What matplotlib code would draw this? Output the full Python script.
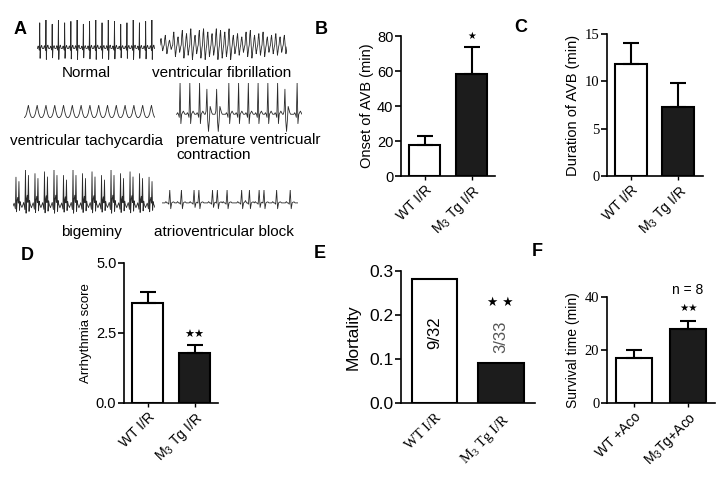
import matplotlib
matplotlib.use('Agg')
import matplotlib.pyplot as plt
import numpy as np

# ---------------- data ----------------
# Panel A: ECG example traces (beat templates + per-beat amplitudes / intervals)
normal_beat = [0, 0, 0.06, 0.1, 0.06, 0, -0.06, 1.0, -0.38, 0, 0.04, 0.1, 0.12, 0.06, 0, 0]
normal_amp = [0.9, 1.0, 0.85, 1.0, 0.9, 0.95, 1.0, 0.85, 0.95, 1.0, 0.9, 1.0, 0.95, 0.85, 0.9, 1.0, 0.9, 0.95, 1.0]

vf_cycle = [0, 0.7, 1.0, 0.4, -0.3, -0.9, -0.6, -0.2]
vf_amp = [0.4, 0.6, 0.3, 0.8, 0.5, 0.9, 0.7, 1.0, 0.6, 0.9, 1.0, 0.8, 0.7, 1.0, 0.9,
          0.8, 1.0, 0.6, 0.7, 0.5, 0.8, 0.9, 0.6, 0.7, 0.8, 0.5, 0.6, 0.7, 0.5, 0.6]

vt_cycle = [0, 0.05, 0.15, 0.35, 0.7, 1.0, 0.6, 0.3, 0.1, 0.02]
vt_count = 15

pvc_normal = [0, 0, 0.05, 0, -0.1, 1.0, -0.3, 0, 0.05, 0.1, 0.05, 0]
pvc_ectopic = [0, 0.1, 0.8, -0.2, -0.55, -0.2, 0.25, 0.15, 0.05, 0, 0, 0]
pvc_seq = ['N', 'N', 'N', 'V', 'V', 'N', 'N', 'N', 'N', 'N', 'N', 'V', 'N']

bigem_pair = [0, 0.05, 0.1, 0, -0.1, 1.0, -0.2, 0.2, 0.3, 0.1, 0.85, -0.15, 0.15, 0.05, 0, -0.05]
bigem_amp = [0.8, 1, 0.9, 0.95, 1, 0.85, 1, 0.9, 0.95, 0.85, 1, 0.9, 0.95, 0.9, 0.8]

avb_beat = [0, 0.1, 0, 0, -0.1, 1.0, -0.45, 0, 0.06, 0.08, 0]
avb_rr = [12, 13, 5, 14, 5, 10, 15, 8, 10, 5, 13, 14]

ecg_labels = ["Normal", "ventricular fibrillation", "ventricular tachycardia",
              "premature ventricualr\ncontraction", "bigeminy", "atrioventricular block"]

# Panel B: onset of AVB (min)
groups_ir = ["WT I/R", r"M$\mathregular{_3}$ Tg I/R"]
onset_mean = [17.5, 58.5]
onset_sem = [5.5, 15.0]

# Panel C: duration of AVB (min)
duration_mean = [11.8, 7.3]
duration_sem = [2.25, 2.5]

# Panel D: arrhythmia score
score_mean = [3.57, 1.78]
score_sem = [0.39, 0.29]

# Panel E: mortality
mortality = [9 / 32, 3 / 33]
mortality_text = ["9/32", "3/33"]

# Panel F: survival time (min)
groups_aco = ["WT +Aco", r"M$\mathregular{_3}$Tg+Aco"]
survival_mean = [17.0, 27.9]
survival_sem = [3.0, 3.0]

# ---------------- figure ----------------
W, H = 725, 478
fig = plt.figure(figsize=(W / 100, H / 100), dpi=100)

SANS = ['Liberation Sans', 'DejaVu Sans']
SERIF = ['Liberation Serif', 'DejaVu Serif']
STAR = ['DejaVu Sans']


def box(x0, y0, x1, y1):
    return [x0 / W, 1 - y1 / H, (x1 - x0) / W, (y1 - y0) / H]


def ftext(x, y, s, **kw):
    fig.text(x / W, 1 - y / H, s, **kw)


# ---- Panel A traces ----
def trace_axes(x0, y0, x1, y1, sig, ylim):
    ax = fig.add_axes(box(x0, y0, x1, y1))
    ax.plot(np.arange(len(sig)), sig, color='#2a2a2a', lw=0.6)
    ax.set_xlim(0, len(sig) - 1)
    ax.set_ylim(*ylim)
    ax.axis('off')


sig_normal = np.concatenate([np.array(normal_beat) * a for a in normal_amp])
trace_axes(37, 20, 155, 60, sig_normal, (-0.4, 1.0))

sig_vf = np.concatenate([np.array(vf_cycle) * a for a in vf_amp])
trace_axes(160, 28, 287, 62, sig_vf, (-1.05, 1.05))

sig_vt = np.tile(vt_cycle, vt_count)
trace_axes(24, 105, 155, 118, sig_vt, (-0.02, 1.02))

sig_pvc = np.concatenate([pvc_normal if s == 'N' else pvc_ectopic for s in pvc_seq])
trace_axes(176, 83, 302, 133, sig_pvc, (-0.6, 1.0))

sig_big = np.concatenate([np.array(bigem_pair) * a for a in bigem_amp])
trace_axes(13, 170, 155, 215, sig_big, (-0.25, 1.0))

avb_len = sum(avb_rr) + len(avb_beat) + 6
sig_avb = np.zeros(avb_len)
pos = 3
for i in range(len(avb_rr) + 1):
    sig_avb[pos:pos + len(avb_beat)] += avb_beat
    if i < len(avb_rr):
        pos += avb_rr[i]
trace_axes(162, 190, 298, 210, sig_avb, (-0.55, 1.0))

lab_fs = 11
ftext(86, 73, ecg_labels[0], ha='center', va='center', fontsize=lab_fs, family=SANS)
ftext(222, 73, ecg_labels[1], ha='center', va='center', fontsize=lab_fs, family=SANS)
ftext(87, 141, ecg_labels[2], ha='center', va='center', fontsize=lab_fs, family=SANS)
ftext(176, 133, ecg_labels[3], ha='left', va='top', fontsize=lab_fs, family=SANS,
      linespacing=1.05)
ftext(91, 232, ecg_labels[4], ha='center', va='center', fontsize=lab_fs, family=SANS)
ftext(224, 232, ecg_labels[5], ha='center', va='center', fontsize=lab_fs, family=SANS)


# ---- bar panels ----
def bar_panel(rect_px, vals, errs, ylim, yticks, yticklabels, ytfam, ytfs,
              ylabel, ylfs, ylabel_cx, xlabels, xfam, xfs, width, xlim,
              xtickmarks=True, xpad=2):
    x0, y0, x1, y1 = rect_px
    ax = fig.add_axes(box(*rect_px))
    x = np.arange(len(vals))
    ax.bar(x, vals, width, color=['white', '#1c1c1c'], edgecolor='black',
           linewidth=1.5, zorder=2)
    if errs is not None:
        ax.errorbar(x, vals, yerr=[[0] * len(vals), errs], fmt='none',
                    ecolor='black', elinewidth=1.5, capsize=6, capthick=1.5, zorder=3)
    ax.set_xlim(*xlim)
    ax.set_ylim(*ylim)
    for s in ['top', 'right']:
        ax.spines[s].set_visible(False)
    for s in ['left', 'bottom']:
        ax.spines[s].set_linewidth(1.2)
    ax.set_yticks(yticks)
    ax.set_yticklabels(yticklabels, fontfamily=ytfam, fontsize=ytfs)
    ax.set_xticks(x)
    ax.set_xticklabels(xlabels, fontfamily=xfam, fontsize=xfs, rotation=45,
                       ha='right', va='top', rotation_mode='anchor')
    ax.tick_params(axis='y', direction='out', length=4, width=1.2, pad=1.5)
    ax.tick_params(axis='x', direction='out', length=3 if xtickmarks else 0,
                   width=1.0, pad=xpad)
    ax.set_ylabel(ylabel, fontfamily=SANS, fontsize=ylfs, va='center')
    ax.yaxis.set_label_coords((ylabel_cx - x0) / (x1 - x0), 0.5)
    return ax


# B
bar_panel((401, 36, 495, 176), onset_mean, onset_sem, (0, 80), [0, 20, 40, 60, 80],
          ['0', '20', '40', '60', '80'], SANS, 10.5, "Onset of AVB (min)", 10.5, 367,
          groups_ir, SANS, 10, 0.66, (-0.5, 1.5))
ftext(471.5, 36, "★", ha='center', va='center', fontsize=7, family=STAR)

# C
bar_panel((607, 34, 703, 176), duration_mean, duration_sem, (0, 15), [0, 5, 10, 15],
          ['0', '5', '10', '15'], SERIF, 10.5, "Duration of AVB (min)", 10.5, 573,
          groups_ir, SANS, 10, 0.68, (-0.51, 1.53))

# D
bar_panel((124, 263, 218, 403), score_mean, score_sem, (0, 5), [0, 2.5, 5],
          ['0.0', '2.5', '5.0'], SANS, 10.5, "Arrhythmia score", 9.5, 86,
          groups_ir, SANS, 10, 0.67, (-0.5, 1.5))
ftext(194, 335, "★★", ha='center', va='center', fontsize=8, family=STAR)

# E
axE = bar_panel((401, 271, 535, 403), mortality, None, (0, 0.3), [0, 0.1, 0.2, 0.3],
                ['0.0', '0.1', '0.2', '0.3'], SANS, 12.5, "Mortality", 12.5, 353,
                groups_ir, SERIF, 10.5, 0.68, (-0.5, 1.51), xtickmarks=False, xpad=6)
ftext(434.5, 333, mortality_text[0], ha='center', va='center', rotation=90,
      fontsize=12, family=SANS)
ftext(501, 337, mortality_text[1], ha='center', va='center', rotation=90,
      fontsize=12, family=SANS, color='#555555')
ftext(500, 302, "★ ★", ha='center', va='center', fontsize=9, family=STAR)

# F
bar_panel((607, 297, 715, 403), survival_mean, survival_sem, (0, 40), [0, 20, 40],
          ['0', '20', '40'], SERIF, 10.5, "Survival time (min)", 10, 573,
          groups_aco, SANS, 10, 0.67, (-0.5, 1.5))
ftext(688, 290, "n = 8", ha='center', va='center', fontsize=10, family=SANS)
ftext(689, 308, "★★", ha='center', va='center', fontsize=7.5, family=STAR)

# panel letters
for L, (px, py) in zip("ABCDEF", [(20, 29), (321, 30), (521, 28), (27, 255), (320, 254), (537, 252)]):
    ftext(px, py, L, ha='center', va='center', fontsize=13, fontweight='bold', family=SANS)

fig.savefig('out.png', dpi=100)
